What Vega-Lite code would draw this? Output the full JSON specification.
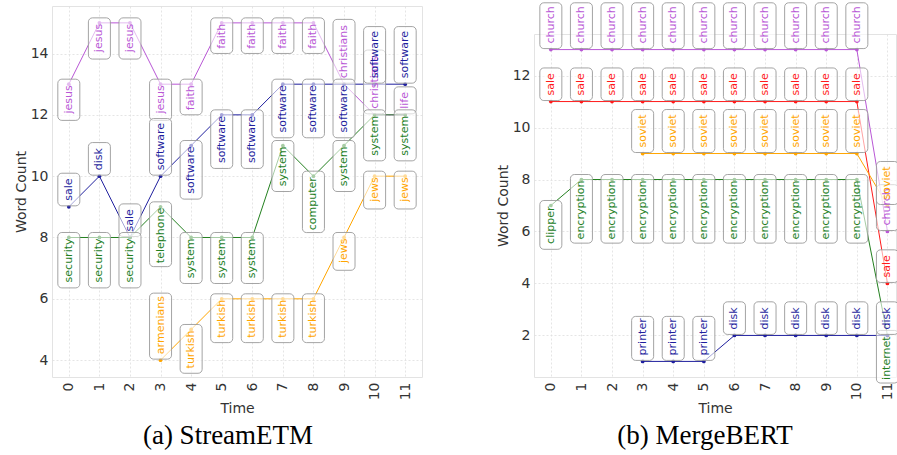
{
  "$schema": "https://vega.github.io/schema/vega-lite/v6.json",
  "background": "white",
  "padding": {"left": 13, "top": 1, "right": 0, "bottom": 4},
  "bounds": "flush",
  "spacing": 112,
  "resolve": {"scale": {"color": "independent", "x": "independent", "y": "independent"}},
  "config": {
    "view": {"stroke": "#e3e3e3"},
    "axis": {
      "labelFont": "DejaVu Sans", "labelFontSize": 14, "labelColor": "#333333",
      "titleFont": "DejaVu Sans", "titleFontSize": 14, "titleFontWeight": "normal", "titleColor": "#333333",
      "ticks": false, "domain": false,
      "gridColor": "#dedede", "gridDash": [2, 2], "gridWidth": 0.8
    },
    "text": {"font": "DejaVu Sans"}
  },
  "datasets": {
    "streametm": [
      {"topic": "A", "t": 0, "count": 13, "word": "jesus"},
      {"topic": "A", "t": 1, "count": 15, "word": "jesus"},
      {"topic": "A", "t": 2, "count": 15, "word": "jesus"},
      {"topic": "A", "t": 3, "count": 13, "word": "jesus"},
      {"topic": "A", "t": 4, "count": 13, "word": "faith"},
      {"topic": "A", "t": 5, "count": 15, "word": "faith"},
      {"topic": "A", "t": 6, "count": 15, "word": "faith"},
      {"topic": "A", "t": 7, "count": 15, "word": "faith"},
      {"topic": "A", "t": 8, "count": 15, "word": "faith"},
      {"topic": "A", "t": 9, "count": 13, "word": "christians"},
      {"topic": "A", "t": 10, "count": 12, "word": "christians"},
      {"topic": "A", "t": 11, "count": 12, "word": "life"},
      {"topic": "B", "t": 0, "count": 9, "word": "sale"},
      {"topic": "B", "t": 1, "count": 10, "word": "disk"},
      {"topic": "B", "t": 2, "count": 8, "word": "sale"},
      {"topic": "B", "t": 3, "count": 10, "word": "software"},
      {"topic": "B", "t": 4, "count": 11, "word": "software"},
      {"topic": "B", "t": 5, "count": 12, "word": "software"},
      {"topic": "B", "t": 6, "count": 12, "word": "software"},
      {"topic": "B", "t": 7, "count": 13, "word": "software"},
      {"topic": "B", "t": 8, "count": 13, "word": "software"},
      {"topic": "B", "t": 9, "count": 13, "word": "software"},
      {"topic": "B", "t": 10, "count": 13, "word": "software"},
      {"topic": "B", "t": 11, "count": 13, "word": "software"},
      {"topic": "C", "t": 0, "count": 8, "word": "security"},
      {"topic": "C", "t": 1, "count": 8, "word": "security"},
      {"topic": "C", "t": 2, "count": 8, "word": "security"},
      {"topic": "C", "t": 3, "count": 9, "word": "telephone"},
      {"topic": "C", "t": 4, "count": 8, "word": "system"},
      {"topic": "C", "t": 5, "count": 8, "word": "system"},
      {"topic": "C", "t": 6, "count": 8, "word": "system"},
      {"topic": "C", "t": 7, "count": 11, "word": "system"},
      {"topic": "C", "t": 8, "count": 10, "word": "computer"},
      {"topic": "C", "t": 9, "count": 11, "word": "system"},
      {"topic": "C", "t": 10, "count": 12, "word": "system"},
      {"topic": "C", "t": 11, "count": 12, "word": "system"},
      {"topic": "D", "t": 3, "count": 4, "word": "armenians"},
      {"topic": "D", "t": 4, "count": 5, "word": "turkish"},
      {"topic": "D", "t": 5, "count": 6, "word": "turkish"},
      {"topic": "D", "t": 6, "count": 6, "word": "turkish"},
      {"topic": "D", "t": 7, "count": 6, "word": "turkish"},
      {"topic": "D", "t": 8, "count": 6, "word": "turkish"},
      {"topic": "D", "t": 9, "count": 8, "word": "jews"},
      {"topic": "D", "t": 10, "count": 10, "word": "jews"},
      {"topic": "D", "t": 11, "count": 10, "word": "jews"}
    ],
    "mergebert": [
      {"topic": "P", "t": 0, "count": 13, "word": "church"},
      {"topic": "P", "t": 1, "count": 13, "word": "church"},
      {"topic": "P", "t": 2, "count": 13, "word": "church"},
      {"topic": "P", "t": 3, "count": 13, "word": "church"},
      {"topic": "P", "t": 4, "count": 13, "word": "church"},
      {"topic": "P", "t": 5, "count": 13, "word": "church"},
      {"topic": "P", "t": 6, "count": 13, "word": "church"},
      {"topic": "P", "t": 7, "count": 13, "word": "church"},
      {"topic": "P", "t": 8, "count": 13, "word": "church"},
      {"topic": "P", "t": 9, "count": 13, "word": "church"},
      {"topic": "P", "t": 10, "count": 13, "word": "church"},
      {"topic": "P", "t": 11, "count": 6, "word": "church"},
      {"topic": "Q", "t": 0, "count": 11, "word": "sale"},
      {"topic": "Q", "t": 1, "count": 11, "word": "sale"},
      {"topic": "Q", "t": 2, "count": 11, "word": "sale"},
      {"topic": "Q", "t": 3, "count": 11, "word": "sale"},
      {"topic": "Q", "t": 4, "count": 11, "word": "sale"},
      {"topic": "Q", "t": 5, "count": 11, "word": "sale"},
      {"topic": "Q", "t": 6, "count": 11, "word": "sale"},
      {"topic": "Q", "t": 7, "count": 11, "word": "sale"},
      {"topic": "Q", "t": 8, "count": 11, "word": "sale"},
      {"topic": "Q", "t": 9, "count": 11, "word": "sale"},
      {"topic": "Q", "t": 10, "count": 11, "word": "sale"},
      {"topic": "Q", "t": 11, "count": 4, "word": "sale"},
      {"topic": "R", "t": 3, "count": 9, "word": "soviet"},
      {"topic": "R", "t": 4, "count": 9, "word": "soviet"},
      {"topic": "R", "t": 5, "count": 9, "word": "soviet"},
      {"topic": "R", "t": 6, "count": 9, "word": "soviet"},
      {"topic": "R", "t": 7, "count": 9, "word": "soviet"},
      {"topic": "R", "t": 8, "count": 9, "word": "soviet"},
      {"topic": "R", "t": 9, "count": 9, "word": "soviet"},
      {"topic": "R", "t": 10, "count": 9, "word": "soviet"},
      {"topic": "R", "t": 11, "count": 7, "word": "soviet"},
      {"topic": "S", "t": 0, "count": 7, "word": "clipper"},
      {"topic": "S", "t": 1, "count": 8, "word": "encryption"},
      {"topic": "S", "t": 2, "count": 8, "word": "encryption"},
      {"topic": "S", "t": 3, "count": 8, "word": "encryption"},
      {"topic": "S", "t": 4, "count": 8, "word": "encryption"},
      {"topic": "S", "t": 5, "count": 8, "word": "encryption"},
      {"topic": "S", "t": 6, "count": 8, "word": "encryption"},
      {"topic": "S", "t": 7, "count": 8, "word": "encryption"},
      {"topic": "S", "t": 8, "count": 8, "word": "encryption"},
      {"topic": "S", "t": 9, "count": 8, "word": "encryption"},
      {"topic": "S", "t": 10, "count": 8, "word": "encryption"},
      {"topic": "S", "t": 11, "count": 2, "word": "internet"},
      {"topic": "T", "t": 3, "count": 1, "word": "printer"},
      {"topic": "T", "t": 4, "count": 1, "word": "printer"},
      {"topic": "T", "t": 5, "count": 1, "word": "printer"},
      {"topic": "T", "t": 6, "count": 2, "word": "disk"},
      {"topic": "T", "t": 7, "count": 2, "word": "disk"},
      {"topic": "T", "t": 8, "count": 2, "word": "disk"},
      {"topic": "T", "t": 9, "count": 2, "word": "disk"},
      {"topic": "T", "t": 10, "count": 2, "word": "disk"},
      {"topic": "T", "t": 11, "count": 2, "word": "disk"}
    ]
  },
  "hconcat": [
    {
      "width": 370,
      "height": 371,
      "data": {"name": "streametm"},
      "title": {"text": "(a) StreamETM", "orient": "bottom", "font": "Liberation Serif", "fontSize": 27, "fontWeight": "normal", "color": "black", "offset": 7, "dx": -9},
      "transform": [
        {"calculate": "(datum.topic == 'B' && (datum.t <= 3 || datum.t >= 10)) || (datum.topic == 'D' && datum.t == 3) || (datum.topic == 'A' && datum.t >= 9)", "as": "up"},
        {"calculate": "6.6*length(datum.word) - 2.8*(length(datum.word) - length(replace(datum.word, regexp('[ijltfr]', 'g'), ''))) + 3.2*(length(datum.word) - length(replace(datum.word, regexp('[mw]', 'g'), '')))", "as": "tw"},
        {"calculate": "datum.up ? datum.count + 1/30.66 : datum.count + 5/30.66", "as": "b1"},
        {"calculate": "datum.up ? datum.count + (datum.tw + 10)/30.66 : datum.count - (datum.tw + 6)/30.66", "as": "b2"}
      ],
      "encoding": {
        "x": {"field": "t", "type": "quantitative", "scale": {"domain": [-0.55, 11.55], "nice": false, "zero": false, "padding": 0},
              "axis": {"values": [0,1,2,3,4,5,6,7,8,9,10,11], "labelAngle": 270, "labelPadding": 5, "title": "Time", "titlePadding": 2}}
      },
      "layer": [
        {
          "mark": {"type": "line", "strokeWidth": 1},
          "encoding": {
            "y": {"field": "count", "type": "quantitative", "scale": {"domain": [3.45, 15.55], "nice": false, "zero": false, "padding": 0},
                  "axis": {"values": [4,6,8,10,12,14], "labelPadding": 4, "title": "Word Count", "titlePadding": 2}},
            "color": {"field": "topic", "type": "nominal", "scale": {"domain": ["A","B","C","D"], "range": ["#b957d6", "#1f1f9e", "#23801f", "#ffa500"]}, "legend": null}
          }
        },
        {
          "mark": {"type": "circle", "size": 14, "opacity": 1},
          "encoding": {
            "y": {"field": "count", "type": "quantitative"},
            "color": {"field": "topic", "type": "nominal", "legend": null}
          }
        },
        {
          "mark": {"type": "bar", "orient": "vertical", "width": 22, "cornerRadius": 4, "fill": "white", "fillOpacity": 0.6, "stroke": "#9a9a9a", "strokeWidth": 0.9},
          "encoding": {
            "y": {"field": "b1", "type": "quantitative"},
            "y2": {"field": "b2"}
          }
        },
        {
          "transform": [{"filter": "datum.up"}],
          "mark": {"type": "text", "angle": 270, "align": "left", "baseline": "middle", "dx": 6, "fontSize": 11},
          "encoding": {
            "y": {"field": "count", "type": "quantitative"},
            "text": {"field": "word"},
            "color": {"field": "topic", "type": "nominal", "legend": null}
          }
        },
        {
          "transform": [{"filter": "!datum.up"}],
          "mark": {"type": "text", "angle": 270, "align": "right", "baseline": "middle", "dx": -1, "fontSize": 11},
          "encoding": {
            "y": {"field": "count", "type": "quantitative"},
            "text": {"field": "word"},
            "color": {"field": "topic", "type": "nominal", "legend": null}
          }
        }
      ]
    },
    {
      "bounds": "flush",
      "spacing": 0,
      "resolve": {"scale": {"color": "independent", "x": "independent", "y": "independent"}},
      "vconcat": [
        {
          "width": 362,
          "height": 28,
          "data": {"values": [{"a": 1}]},
          "mark": {"type": "text", "text": " "},
          "encoding": {},
          "view": {"stroke": null}
        },
        {
          "width": 362,
          "height": 343,
          "data": {"name": "mergebert"},
          "title": {"text": "(b) MergeBERT", "orient": "bottom", "font": "Liberation Serif", "fontSize": 27, "fontWeight": "normal", "color": "black", "offset": 7, "dx": -10},
          "transform": [
            {"calculate": "datum.topic != 'S'", "as": "up"},
            {"calculate": "6.6*length(datum.word) - 2.8*(length(datum.word) - length(replace(datum.word, regexp('[ijltfr]', 'g'), ''))) + 3.2*(length(datum.word) - length(replace(datum.word, regexp('[mw]', 'g'), '')))", "as": "tw"},
            {"calculate": "datum.up ? datum.count + 1/25.98 : datum.count + 5/25.98", "as": "b1"},
            {"calculate": "datum.up ? datum.count + (datum.tw + 10)/25.98 : datum.count - (datum.tw + 6)/25.98", "as": "b2"}
          ],
          "encoding": {
            "x": {"field": "t", "type": "quantitative", "scale": {"domain": [-0.55, 11.28], "nice": false, "zero": false, "padding": 0},
                  "axis": {"values": [0,1,2,3,4,5,6,7,8,9,10,11], "labelAngle": 270, "labelPadding": 5, "title": "Time", "titlePadding": 2}}
          },
          "layer": [
            {
              "mark": {"type": "line", "strokeWidth": 1},
              "encoding": {
                "y": {"field": "count", "type": "quantitative", "scale": {"domain": [0.4, 13.6], "nice": false, "zero": false, "padding": 0},
                      "axis": {"values": [2,4,6,8,10,12], "labelPadding": 4, "title": "Word Count", "titlePadding": 2}},
                "color": {"field": "topic", "type": "nominal", "scale": {"domain": ["P","Q","R","S","T"], "range": ["#b957d6", "#ff1a1a", "#ffa500", "#23801f", "#1f1f9e"]}, "legend": null}
              }
            },
            {
              "mark": {"type": "circle", "size": 14, "opacity": 1},
              "encoding": {
                "y": {"field": "count", "type": "quantitative"},
                "color": {"field": "topic", "type": "nominal", "legend": null}
              }
            },
            {
              "mark": {"type": "bar", "orient": "vertical", "width": 22, "cornerRadius": 4, "fill": "white", "fillOpacity": 0.6, "stroke": "#9a9a9a", "strokeWidth": 0.9},
              "encoding": {
                "y": {"field": "b1", "type": "quantitative"},
                "y2": {"field": "b2"}
              }
            },
            {
              "transform": [{"filter": "datum.up"}],
              "mark": {"type": "text", "angle": 270, "align": "left", "baseline": "middle", "dx": 6, "fontSize": 11},
              "encoding": {
                "y": {"field": "count", "type": "quantitative"},
                "text": {"field": "word"},
                "color": {"field": "topic", "type": "nominal", "legend": null}
              }
            },
            {
              "transform": [{"filter": "!datum.up"}],
              "mark": {"type": "text", "angle": 270, "align": "right", "baseline": "middle", "dx": -1, "fontSize": 11},
              "encoding": {
                "y": {"field": "count", "type": "quantitative"},
                "text": {"field": "word"},
                "color": {"field": "topic", "type": "nominal", "legend": null}
              }
            }
          ]
        }
      ]
    }
  ]
}
